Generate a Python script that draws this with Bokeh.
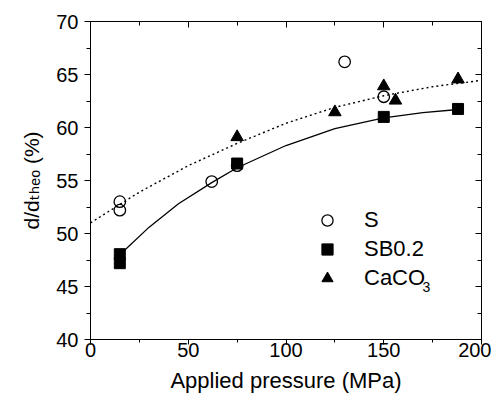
import math
from bokeh.plotting import figure
from bokeh.models import (Range1d, LinearAxis, FixedTicker, Legend, LegendItem, Label,
                          CustomJSTickFormatter, Title)
from bokeh.embed import file_html
from bokeh.resources import INLINE

# ---- data ----
s_pressure = [15, 15, 62, 75, 130, 150]
s_density = [53.0, 52.2, 54.9, 56.4, 66.2, 62.9]

sb_pressure = [15, 15, 75, 150, 188]
sb_density = [48.05, 47.2, 56.6, 61.0, 61.75]

ca_pressure = [75, 125, 150, 156, 188]
ca_density = [59.1, 61.45, 63.9, 62.55, 64.55]

# fitted curves as drawn in the reference
fit_sb_x = [15, 30, 45, 62, 75, 100, 125, 150, 170, 188]
fit_sb_y = [48.0, 50.6, 52.8, 54.8, 56.2, 58.3, 59.9, 60.9, 61.4, 61.7]

fit_dot_x = [0, 25, 50, 75, 100, 125, 150, 175, 200]
fit_dot_y = [51.0, 53.9, 56.4, 58.5, 60.4, 61.9, 63.0, 63.85, 64.45]

x_major = [0, 50, 100, 150, 200]
x_minor = [25, 75, 125, 175]
y_major = [40, 45, 50, 55, 60, 65, 70]
y_minor = [42.5, 47.5, 52.5, 57.5, 62.5, 67.5]

FONT = "Liberation Sans"

p = figure(frame_width=391, frame_height=318, output_backend="svg",
           toolbar_location=None, x_range=Range1d(0, 200), y_range=Range1d(40, 70),
           min_border_left=90, min_border_top=21, min_border_right=10, min_border_bottom=50)
p.grid.visible = False
p.outline_line_color = "black"
p.outline_line_width = 1
p.background_fill_color = "white"
p.border_fill_color = "white"

# line fits
p.line(fit_dot_x, fit_dot_y, line_color="black", line_width=1.4, line_dash="2 3")
p.line(fit_sb_x, fit_sb_y, line_color="black", line_width=1.3)

r_s = p.scatter(s_pressure, s_density, marker="circle", size=11.5, fill_color=None,
                line_color="black", line_width=1.3)
r_sb = p.scatter(sb_pressure, sb_density, marker="square", size=11, fill_color="black",
                 line_color="black")
r_ca = p.scatter(ca_pressure, ca_density, marker="triangle", size=12.5, fill_color="black",
                 line_color="black")

xa = p.xaxis[0]
ya = p.yaxis[0]
for ax, ticks, minors in ((xa, x_major, x_minor), (ya, y_major, y_minor)):
    ax.ticker = FixedTicker(ticks=ticks, minor_ticks=minors)
    ax.axis_line_color = "black"
    ax.major_tick_line_color = "black"
    ax.minor_tick_line_color = "black"
    ax.major_tick_in = 0
    ax.major_tick_out = 6
    ax.minor_tick_in = 0
    ax.minor_tick_out = 4
    ax.major_label_text_font = FONT
    ax.major_label_text_color = "black"
    ax.major_label_text_font_size = "20px"
xa.major_tick_out = 5
xa.minor_tick_out = 3
xa.major_label_standoff = -2
ya.major_label_standoff = 6
xa.axis_label = "Applied pressure (MPa)"
xa.axis_label_text_font = FONT
xa.axis_label_text_font_style = "normal"
xa.axis_label_text_font_size = "22px"
xa.axis_label_text_color = "black"
xa.axis_label_standoff = 8

blank = CustomJSTickFormatter(code="return ''")
for loc, ticks, minors in (("above", x_major, x_minor), ("right", y_major, y_minor)):
    ax = LinearAxis(ticker=FixedTicker(ticks=ticks, minor_ticks=minors), formatter=blank)
    ax.axis_line_color = "black"
    ax.major_tick_line_color = "black"
    ax.minor_tick_line_color = "black"
    ax.major_tick_in = 6
    ax.major_tick_out = 0
    ax.minor_tick_in = 4
    ax.minor_tick_out = 0
    ax.major_label_standoff = 0
    ax.axis_label_standoff = 0
    p.add_layout(ax, loc)

# y-axis label (subscript "theo" with Unicode subscript letters)
ytitle = Title(text="d/d\u209c\u2095\u2091\u2092 (%)", align="center", offset=34,
               text_font="Liberation Sans, DejaVu Sans", text_font_size="21px",
               text_font_style="normal", text_color="black", standoff=22)
p.add_layout(ytitle, "left")

legend = Legend(items=[LegendItem(label="S", renderers=[r_s]),
                       LegendItem(label="SB0.2", renderers=[r_sb]),
                       LegendItem(label="CaCO", renderers=[r_ca])],
                location=(223, 47), padding=0, margin=0, spacing=1,
                glyph_height=28, glyph_width=28, label_standoff=23,
                border_line_color=None, background_fill_alpha=0,
                label_text_font=FONT, label_text_font_size="22px",
                label_text_color="black")
p.add_layout(legend)

p.add_layout(Label(x=169.8, y=45.0, text="3", text_font=FONT, text_font_size="14px",
                   text_color="black", text_align="left", text_baseline="alphabetic"))

open("out.html", "w").write(file_html(p, INLINE))
